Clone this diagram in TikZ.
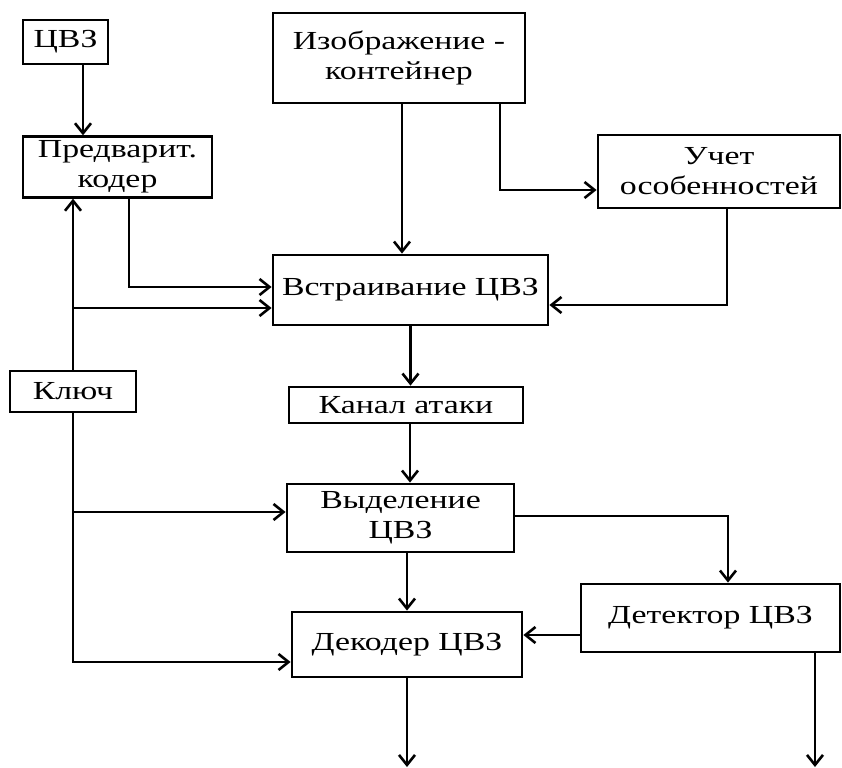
\documentclass[tikz,border=0pt]{standalone}
\usepackage{fontspec}
\setmainfont{Liberation Serif}[FakeStretch=1.3]
\usetikzlibrary{arrows.meta, positioning, calc}

\begin{document}
\begin{tikzpicture}[
    x=0.5pt, y=-0.5pt,
    block/.style={draw, line width=1.4pt, inner sep=2pt, font=\fontsize{13pt}{15pt}\selectfont, align=center},
    arrow/.style={-{Straight Barb[length=5pt, width=8pt]}, line width=1.3pt}
]
    \useasboundingbox (0,0) rectangle (842,767);

    % Main blocks
    \node[block, minimum width=42.5pt, minimum height=22pt] (cvz) at (65.5,42) {ЦВЗ};
    \node[block, minimum width=94.5pt, minimum height=30pt] (coder) at (117.5,167) {Предварит.\\кодер};
    \node[block, minimum width=126pt, minimum height=45pt] (image) at (399,58) {Изображение -\\контейнер};
    \node[block, minimum width=121pt, minimum height=36.5pt] (features) at (719,171.5) {Учет\\особенностей};
    \node[block, minimum width=137.5pt, minimum height=35pt] (embed) at (410.5,290) {Встраивание ЦВЗ};
    \node[block, minimum width=117pt, minimum height=18pt] (channel) at (406,405) {Канал атаки};
    \node[block, minimum width=63pt, minimum height=20.5pt] (key) at (73,391.5) {Ключ};
    \node[block, minimum width=113.5pt, minimum height=34pt] (extract) at (400.5,518) {Выделение\\ЦВЗ};
    \node[block, minimum width=129.5pt, minimum height=34pt] (detector) at (710.5,618) {Детектор ЦВЗ};
    \node[block, minimum width=115pt, minimum height=32.5pt] (decoder) at (407,644.5) {Декодер ЦВЗ};

    % Ports
    \coordinate (cvzout) at ([xshift=8.75pt]cvz.south);
    \coordinate (coderout) at ([xshift=5.75pt]coder.south);
    \coordinate (embedin1) at ([yshift=1.5pt]embed.west);
    \coordinate (embedin2) at ([yshift=-9pt]embed.west);
    \coordinate (embedin3) at ([yshift=-7.5pt]embed.east);
    \coordinate (imageout1) at ([xshift=1.5pt]image.south);
    \coordinate (imageout2) at ([xshift=50.5pt]image.south);
    \coordinate (featuresin) at ([yshift=-9.25pt]features.west);
    \coordinate (featuresout) at ([xshift=4pt]features.south);
    \coordinate (channelout) at ([xshift=2pt]channel.south);
    \coordinate (extractin) at ([yshift=3pt]extract.west);
    \coordinate (extractout1) at ([xshift=3.25pt]extract.south);
    \coordinate (extractout2) at ([yshift=1pt]extract.east);
    \coordinate (detectorin) at ([xshift=8.75pt]detector.north);
    \coordinate (detectorout) at ([yshift=-8.5pt]detector.west);
    \coordinate (decoderin) at ([yshift=-8.75pt]decoder.west);
    \coordinate (decoderres) at (407,767);
    \coordinate (detectorres) at (815,767);

    % Connections
    \draw[arrow] (cvzout) -- (cvzout |- coder.north);
    \draw[arrow] (key.north) -- (key.north |- coder.south);
    \draw[arrow] (coderout) |- (embedin1);
    \draw[arrow] (embedin2 -| key.north) -- (embedin2);
    \draw[arrow] (imageout1) -- (imageout1 |- embed.north);
    \draw[arrow] (imageout2) |- (featuresin);
    \draw[arrow] (featuresout) |- (embedin3);
    \draw[arrow] (embed.south) -- (embed.south |- channel.north);
    \draw[arrow] (channelout) -- (channelout |- extract.north);
    \draw[arrow] (key.south) |- (decoderin);
    \draw[arrow] (extractin -| key.south) -- (extractin);
    \draw[arrow] (extractout1) -- (extractout1 |- decoder.north);
    \draw[arrow] (extractout2) -| (detectorin);
    \draw[arrow] (detectorout) -- (detectorout -| decoder.east);
    \draw[arrow] (decoderres |- decoder.south) -- (decoderres);
    \draw[arrow] (detectorres |- detector.south) -- (detectorres);

\end{tikzpicture}
\end{document}
